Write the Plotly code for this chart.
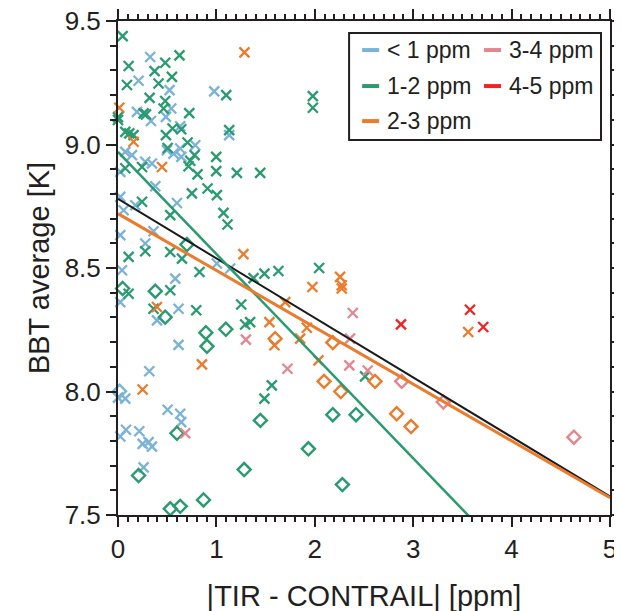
import plotly.graph_objects as go

# ---------------- data ----------------
# < 1 ppm
blue_x_x = [0.327, 0.209, 0.524, 0.978, 0.541, 0.193, 0.487, 0.335, 0.632, 1.13, 0.785, 0.497, 0.632, 0.564,
            0.643, 0.074, 0.142, 0.277, 0.345, 0.023, 0.379, 0.023, 0.599, 0.176, 0.057, 0.361, 0.023, 0.277,
            0.041, 1.005, 1.14, 0.582, 0.023, 0.615, 0.396, 0.615, 0.318, 0.0, 0.074, 0.504, 0.632, 0.643,
            0.023, 0.081, 0.216, 0.25, 0.311, 0.345, 0.26]
blue_x_y = [9.354, 9.258, 9.220, 9.215, 9.146, 9.132, 9.112, 9.095, 9.074, 9.038, 8.997, 8.977, 8.984, 8.963,
            8.95, 8.97, 8.957, 8.93, 8.923, 8.889, 8.831, 8.788, 8.763, 8.754, 8.734, 8.649, 8.633, 8.599,
            8.491, 8.518, 8.498, 8.457, 8.362, 8.335, 8.288, 8.189, 8.082, 7.975, 7.971, 7.926, 7.910, 7.876,
            7.818, 7.845, 7.839, 7.788, 7.795, 7.777, 7.693]
blue_d_x = [0.016]
blue_d_y = [8.001]

# 1-2 ppm
green_x_x = [0.047, 0.48, 0.625, 0.108, 0.372, 0.548, 0.091, 0.412, 1.1, 0.321, 0.48, 0.463, 0.26, 0.284,
             0.724, 0.0, 0.0, 0.554, 0.643, 0.074, 0.115, 0.158, 0.487, 1.13, 0.707, 0.504, 0.778, 0.998,
             0.734, 0.717, 0.998, 1.208, 1.445, 0.808, 0.074, 0.244, 1.98, 1.98, 0.751, 0.91, 1.005, 0.244,
             0.531, 1.072, 1.113, 0.277, 0.108, 0.65, 0.531, 0.828, 1.377, 1.488, 1.63, 0.108, 0.531, 0.361,
             0.795, 1.252, 1.343, 1.292, 2.044, 2.511, 1.563, 1.488]
green_x_y = [9.439, 9.331, 9.361, 9.318, 9.297, 9.274, 9.241, 9.247, 9.2, 9.189, 9.176, 9.146, 9.126, 9.122,
             9.127, 9.111, 9.099, 9.065, 9.062, 9.051, 9.045, 9.038, 9.038, 9.058, 9.008, 8.986, 8.957, 8.95,
             8.934, 8.912, 8.892, 8.885, 8.885, 8.879, 8.904, 8.909, 9.196, 9.149, 8.802, 8.822, 8.795, 8.768,
             8.714, 8.723, 8.676, 8.568, 8.545, 8.538, 8.565, 8.484, 8.459, 8.477, 8.488, 8.396, 8.41, 8.335,
             8.329, 8.352, 8.281, 8.271, 8.5, 8.061, 8.025, 7.971]
green_d_x = [0.7, 0.047, 0.379, 0.48, 0.893, 1.096, 0.904, 1.447, 0.599, 0.209, 1.282, 0.869, 0.531, 0.632,
             1.935, 2.28, 2.183, 2.419]
green_d_y = [8.595, 8.417, 8.406, 8.301, 8.238, 8.252, 8.183, 7.883, 7.831, 7.66, 7.684, 7.561, 7.525, 7.535,
             7.768, 7.623, 7.906, 7.906]

# 2-3 ppm
orange_x_x = [1.285, 0.013, 0.158, 0.447, 1.275, 0.396, 1.539, 0.853, 0.25, 1.59, 2.257, 2.274, 2.274, 1.976,
              1.699, 1.919, 1.851, 2.037, 3.559]
orange_x_y = [9.373, 9.149, 9.011, 8.909, 8.556, 8.342, 8.281, 8.11, 8.008, 8.187, 8.464, 8.43, 8.417, 8.423,
              8.362, 8.258, 8.214, 8.126, 8.241]
orange_d_x = [1.597, 2.183, 2.612, 2.094, 2.264, 2.832, 2.978]
orange_d_y = [8.214, 8.198, 8.041, 8.041, 8.0, 7.91, 7.858]

# 3-4 ppm
pink_x_x = [1.3, 2.386, 2.358, 1.722, 2.351, 2.538, 0.683]
pink_x_y = [8.21, 8.318, 8.214, 8.092, 8.106, 8.085, 7.831]
pink_d_x = [2.883, 3.306, 4.633]
pink_d_y = [8.041, 7.957, 7.815]

# 4-5 ppm
red_x_x = [2.876, 3.577, 3.712]
red_x_y = [8.272, 8.331, 8.261]

# linear fits: intercept, slope
fit_all = (8.78, -0.241)
fit_green = (8.97, -0.4135)
fit_orange = (8.72, -0.23)
fit_x = [0.0, 5.0]

legend_labels = ["< 1 ppm", "1-2 ppm", "2-3 ppm", "3-4 ppm", "4-5 ppm"]

# ---------------- style ----------------
BLUE = "#7ab3d7"
GREEN = "#2a9a70"
ORANGE = "#eb7b2d"
PINK = "#e3868f"
RED = "#ee2424"
INK = "#231f20"
FONT = "Liberation Sans, Arial, sans-serif"

fig = go.Figure()

def add_fit(params, color, width):
    b0, b1 = params
    fig.add_trace(go.Scatter(x=fit_x, y=[b0 + b1 * v for v in fit_x], mode="lines",
                             line=dict(color=color, width=width), showlegend=False,
                             hoverinfo="skip"))

def add_pts(xs, ys, color, diamond=False):
    if not xs:
        return
    if diamond:
        marker = dict(symbol="diamond-open", size=10, color=color, line=dict(color=color, width=2.4))
    else:
        marker = dict(symbol="x-thin-open", size=10, color=color, line=dict(color=color, width=2.3))
    fig.add_trace(go.Scatter(x=xs, y=ys, mode="markers", marker=marker, showlegend=False,
                             cliponaxis=False))

add_pts(blue_x_x, blue_x_y, BLUE)
add_pts(blue_d_x, blue_d_y, BLUE, True)
add_pts(green_x_x, green_x_y, GREEN)
add_pts(green_d_x, green_d_y, GREEN, True)
add_pts(orange_x_x, orange_x_y, ORANGE)
add_pts(orange_d_x, orange_d_y, ORANGE, True)
add_pts(pink_x_x, pink_x_y, PINK)
add_pts(pink_d_x, pink_d_y, PINK, True)
add_pts(red_x_x, red_x_y, RED)

add_fit(fit_all, "#1a1a1a", 2)
add_fit(fit_green, GREEN, 2.5)
add_fit(fit_orange, ORANGE, 3)

# manual legend (paper coords in plot area)
shapes = [dict(type="rect", xref="paper", yref="paper", x0=0.4697, x1=0.9817, y0=0.7589, y1=0.9757,
               line=dict(color=INK, width=2), fillcolor="white", layer="above")]
annotations = []
legend_cols = [(0.4962, 0.5308, 0.5429), (0.7440, 0.7786, 0.7908)]
legend_rows = [0.9412, 0.8683, 0.7974]
legend_colors = [BLUE, GREEN, ORANGE, PINK, RED]
slots = [(0, 0), (0, 1), (0, 2), (1, 0), (1, 1)]
for lab, col, (ci, ri) in zip(legend_labels, legend_colors, slots):
    x0, x1, xt = legend_cols[ci]
    yy = legend_rows[ri]
    shapes.append(dict(type="line", xref="paper", yref="paper", x0=x0, x1=x1, y0=yy, y1=yy,
                       line=dict(color=col, width=4), layer="above"))
    annotations.append(dict(xref="paper", yref="paper", x=xt, y=yy, text=lab, showarrow=False,
                            xanchor="left", yanchor="middle", font=dict(size=23, color=INK, family=FONT)))

axis_common = dict(showline=True, linecolor=INK, linewidth=2, mirror="ticks", ticks="outside",
                   tickcolor=INK, tickwidth=2, ticklen=10, showgrid=False, zeroline=False,
                   automargin=False, ticklabeloverflow="allow",
                   tickfont=dict(size=26, color=INK, family=FONT))

# page body adds an 8px offset; margins compensate so the plot box lands where the reference has it
fig.update_layout(
    template="none",
    width=622, height=611,
    margin=dict(l=110, r=20, t=13, b=104),
    paper_bgcolor="white", plot_bgcolor="white",
    showlegend=False,
    shapes=shapes, annotations=annotations,
    xaxis=dict(range=[0, 5], dtick=1, tick0=0,
               minor=dict(dtick=0.1, ticks="outside", ticklen=5, tickwidth=1.5, tickcolor=INK, showgrid=False),
               title=dict(text="|TIR - CONTRAIL| [ppm]", font=dict(size=29, color=INK, family=FONT), standoff=22),
               **axis_common),
    yaxis=dict(range=[7.5, 9.5], dtick=0.5, tick0=7.5, tickformat=".1f",
               minor=dict(dtick=0.1, ticks="outside", ticklen=6, tickwidth=1.5, tickcolor=INK, showgrid=False),
               title=dict(text="BBT average [K]", font=dict(size=29, color=INK, family=FONT), standoff=6),
               **axis_common),
)

fig.write_html("out.html")
